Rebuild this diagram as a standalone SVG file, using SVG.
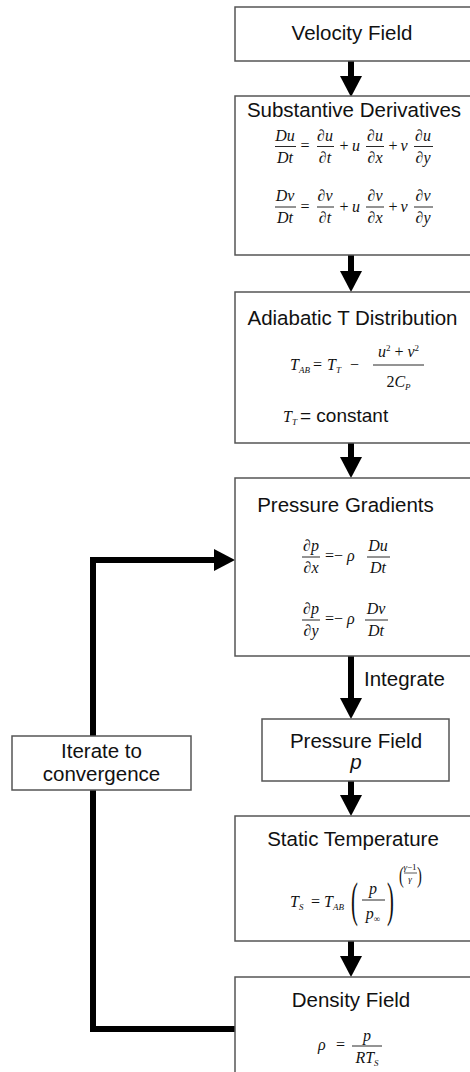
<svg xmlns="http://www.w3.org/2000/svg" width="470" height="1072" viewBox="0 0 470 1072">
<style>
.box{fill:#fff;stroke:#555;stroke-width:1.5}
.t{font-family:"Liberation Sans",Arial,sans-serif;font-size:20.5px;fill:#111}
.m{font-family:"Liberation Serif","Times New Roman",serif;font-size:16px;font-style:italic;fill:#111}
.r{font-style:normal}
.s{font-size:9px}
.bar{stroke:#111;stroke-width:0.9}
.c{fill:none;stroke:#000;stroke-width:6}
</style>
<defs>
<marker id="ah" markerUnits="userSpaceOnUse" markerWidth="21" markerHeight="22" refX="0" refY="11" orient="auto">
<path d="M0,0 L21,11 L0,22 z" fill="#000"/>
</marker>
</defs>
<g id="connectors">
<line class="c" x1="351" y1="61" x2="351" y2="76" marker-end="url(#ah)"/>
<line class="c" x1="351" y1="255" x2="351" y2="271" marker-end="url(#ah)"/>
<line class="c" x1="351" y1="443" x2="351" y2="457" marker-end="url(#ah)"/>
<line class="c" x1="351" y1="656" x2="351" y2="698" marker-end="url(#ah)"/>
<line class="c" x1="351" y1="781" x2="351" y2="795" marker-end="url(#ah)"/>
<line class="c" x1="351" y1="941" x2="351" y2="956" marker-end="url(#ah)"/>
<polyline class="c" points="235,1029 93,1029 93,560 214,560" marker-end="url(#ah)"/>
<text class="t" x="364" y="686">Integrate</text>
</g>
<g id="velocity">
<rect class="box" x="235" y="7" width="260" height="54"/>
<text class="t" x="352" y="40" text-anchor="middle">Velocity Field</text>
</g>
<g id="substantive">
<rect class="box" x="235" y="96" width="260" height="159"/>
<text class="t" x="354" y="117" text-anchor="middle">Substantive Derivatives</text>
<g class="m">
<text x="285" y="141" text-anchor="middle">Du</text>
<line class="bar" x1="275" y1="146.5" x2="296" y2="146.5"/>
<text x="285" y="163" text-anchor="middle">Dt</text>
<text class="r" x="305" y="151" text-anchor="middle">=</text>
<text x="325" y="141" text-anchor="middle"><tspan class="r">∂</tspan>u</text>
<line class="bar" x1="317" y1="146.5" x2="334" y2="146.5"/>
<text x="325" y="163" text-anchor="middle"><tspan class="r">∂</tspan>t</text>
<text class="r" x="344" y="151" text-anchor="middle">+</text>
<text x="356" y="151" text-anchor="middle">u</text>
<text x="375" y="141" text-anchor="middle"><tspan class="r">∂</tspan>u</text>
<line class="bar" x1="366" y1="146.5" x2="384" y2="146.5"/>
<text x="375" y="163" text-anchor="middle"><tspan class="r">∂</tspan>x</text>
<text class="r" x="393" y="151" text-anchor="middle">+</text>
<text x="404" y="151" text-anchor="middle">v</text>
<text x="423" y="141" text-anchor="middle"><tspan class="r">∂</tspan>u</text>
<line class="bar" x1="414" y1="146.5" x2="433" y2="146.5"/>
<text x="423" y="163" text-anchor="middle"><tspan class="r">∂</tspan>y</text>

<text x="285" y="201" text-anchor="middle">Dv</text>
<line class="bar" x1="275" y1="207" x2="296" y2="207"/>
<text x="285" y="223" text-anchor="middle">Dt</text>
<text class="r" x="305" y="211.5" text-anchor="middle">=</text>
<text x="325" y="201" text-anchor="middle"><tspan class="r">∂</tspan>v</text>
<line class="bar" x1="317" y1="207" x2="334" y2="207"/>
<text x="325" y="223" text-anchor="middle"><tspan class="r">∂</tspan>t</text>
<text class="r" x="344" y="211.5" text-anchor="middle">+</text>
<text x="356" y="211.5" text-anchor="middle">u</text>
<text x="375" y="201" text-anchor="middle"><tspan class="r">∂</tspan>v</text>
<line class="bar" x1="366" y1="207" x2="384" y2="207"/>
<text x="375" y="223" text-anchor="middle"><tspan class="r">∂</tspan>x</text>
<text class="r" x="393" y="211.5" text-anchor="middle">+</text>
<text x="404" y="211.5" text-anchor="middle">v</text>
<text x="423" y="201" text-anchor="middle"><tspan class="r">∂</tspan>v</text>
<line class="bar" x1="414" y1="207" x2="433" y2="207"/>
<text x="423" y="223" text-anchor="middle"><tspan class="r">∂</tspan>y</text>
</g>
</g>
<g id="adiabatic">
<rect class="box" x="235" y="292" width="260" height="151"/>
<text class="t" x="352.5" y="325" text-anchor="middle">Adiabatic T Distribution</text>
<g class="m">
<text x="290" y="370">T<tspan class="s" dy="3">AB</tspan></text>
<text class="r" x="313" y="370">=</text>
<text x="327" y="370">T<tspan class="s" dy="3">T</tspan></text>
<text class="r" x="350" y="370">−</text>
<text x="398.5" y="357" text-anchor="middle">u<tspan class="s r" dy="-6">2</tspan><tspan class="r" dy="6"> + </tspan>v<tspan class="s r" dy="-6">2</tspan></text>
<line class="bar" x1="373" y1="365" x2="424" y2="365"/>
<text x="398.5" y="387" text-anchor="middle"><tspan class="r">2</tspan>C<tspan class="s" dy="3">P</tspan></text>
<text x="283" y="422">T<tspan class="s" dy="3">T</tspan></text>
</g>
<text class="t" x="300" y="422" style="font-size:19px">= constant</text>
</g>
<g id="pressure-gradients">
<rect class="box" x="235" y="478" width="260" height="178"/>
<text class="t" x="345.5" y="512" text-anchor="middle">Pressure Gradients</text>
<g class="m">
<text x="311" y="551" text-anchor="middle"><tspan class="r">∂</tspan>p</text>
<line class="bar" x1="302" y1="557" x2="320" y2="557"/>
<text x="311" y="573" text-anchor="middle"><tspan class="r">∂</tspan>x</text>
<text class="r" x="325" y="561">=−</text>
<text x="347" y="561">ρ</text>
<text x="378" y="551" text-anchor="middle">Du</text>
<line class="bar" x1="367" y1="557" x2="390" y2="557"/>
<text x="378" y="573" text-anchor="middle">Dt</text>

<text x="311" y="614" text-anchor="middle"><tspan class="r">∂</tspan>p</text>
<line class="bar" x1="302" y1="620" x2="320" y2="620"/>
<text x="311" y="636" text-anchor="middle"><tspan class="r">∂</tspan>y</text>
<text class="r" x="325" y="624">=−</text>
<text x="347" y="624">ρ</text>
<text x="376" y="614" text-anchor="middle">Dv</text>
<line class="bar" x1="365" y1="620" x2="388" y2="620"/>
<text x="376" y="636" text-anchor="middle">Dt</text>
</g>
</g>
<g id="pressure-field">
<rect class="box" x="262" y="719" width="187" height="62"/>
<text class="t" x="356" y="748" text-anchor="middle">Pressure Field</text>
<text class="t" x="356" y="769" text-anchor="middle" font-style="italic">p</text>
</g>
<g id="static-temperature">
<rect class="box" x="235" y="816" width="260" height="125"/>
<text class="t" x="353" y="846" text-anchor="middle">Static Temperature</text>
<g class="m">
<text x="290" y="907">T<tspan class="s" dy="3">S</tspan></text>
<text class="r" x="311" y="907">=</text>
<text x="324" y="907">T<tspan class="s" dy="3">AB</tspan></text>
<text class="r" transform="translate(351,916) scale(0.42,1)" style="font-size:49px">(</text>
<text x="373" y="894" text-anchor="middle">p</text>
<line class="bar" x1="362" y1="900" x2="385" y2="900"/>
<text x="373" y="919" text-anchor="middle">p<tspan class="s r" dy="3">∞</tspan></text>
<text class="r" transform="translate(387,916) scale(0.42,1)" style="font-size:49px">)</text>
<text class="r" transform="translate(399,883) scale(0.6,1)" style="font-size:24px">(</text>
<text x="410" y="870" text-anchor="middle" style="font-size:9px">γ<tspan class="r">−1</tspan></text>
<line class="bar" x1="404" y1="873" x2="417" y2="873" style="stroke-width:0.7"/>
<text x="410" y="882" text-anchor="middle" style="font-size:9px">γ</text>
<text class="r" transform="translate(417,883) scale(0.6,1)" style="font-size:24px">)</text>
</g>
</g>
<g id="density-field">
<rect class="box" x="235" y="977" width="260" height="120"/>
<text class="t" x="351" y="1007" text-anchor="middle">Density Field</text>
<g class="m">
<text x="318" y="1050">ρ</text>
<text class="r" x="336" y="1050">=</text>
<text x="367" y="1041" text-anchor="middle">p</text>
<line class="bar" x1="352" y1="1046" x2="382" y2="1046"/>
<text x="367" y="1063" text-anchor="middle">RT<tspan class="s" dy="3">S</tspan></text>
</g>
</g>
<g id="iterate">
<rect class="box" x="12" y="736" width="179" height="54"/>
<text class="t" x="101.5" y="758" text-anchor="middle">Iterate to</text>
<text class="t" x="101.5" y="781" text-anchor="middle">convergence</text>
</g>
</svg>
